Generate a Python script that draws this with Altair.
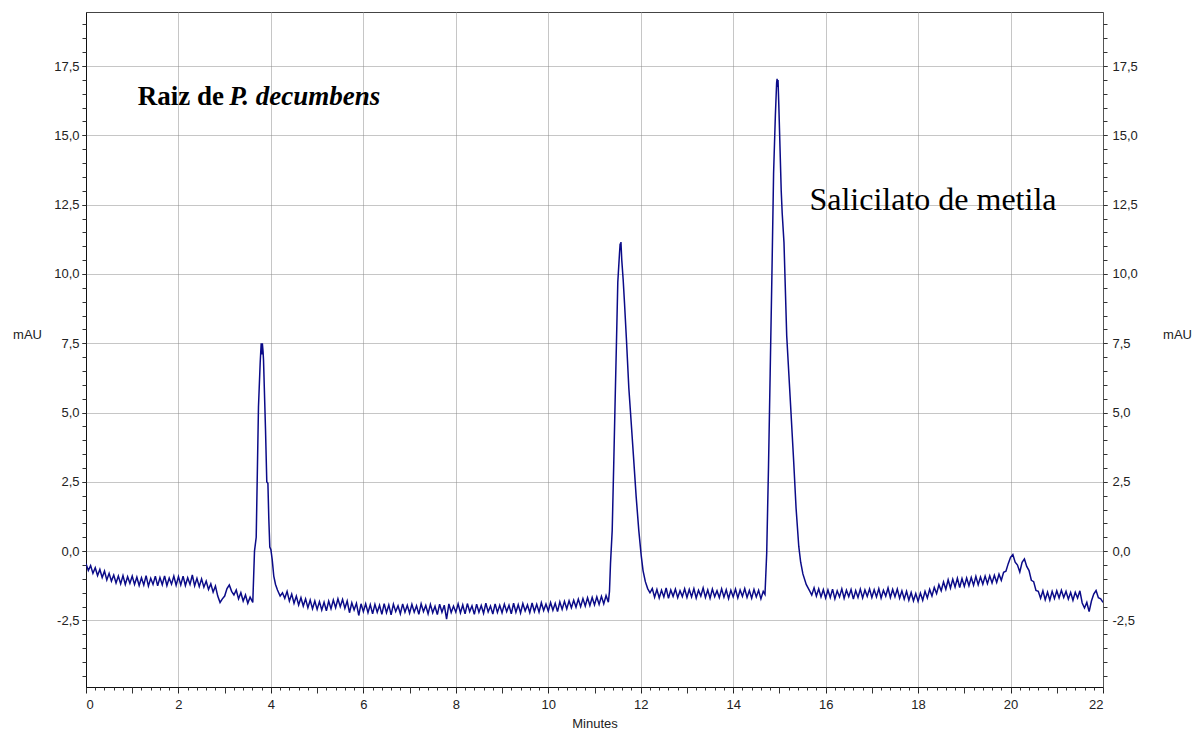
import altair as alt
import pandas as pd

# ---------------- data ----------------
STEP = 0.05  # sampling interval (min) of the baseline readings below
# (start minute, readings every STEP minutes) in mAU
baseline_segments = [
    (0.00, [-0.45, -0.70, -0.52, -0.80, -0.60, -0.88, -0.66, -0.95, -0.72, -1.04,
            -0.80, -1.08, -0.86, -1.15, -0.90, -1.18, -0.88, -1.20, -0.92, -1.16]),
    (1.00, [-0.90, -1.20, -0.94, -1.24, -0.96, -1.22, -0.88, -1.26, -0.98, -1.20,
            -0.90, -1.25, -0.95, -1.21, -0.89, -1.24, -0.97, -1.19, -0.90, -1.23]),
    (2.00, [-0.92, -1.22, -0.90, -1.24, -0.96, -1.20, -0.86, -1.25, -0.98, -1.28,
            -1.00, -1.30, -1.08, -1.38, -1.18, -1.48, -1.26, -1.62, -1.85, -1.72]),
    (3.00, [-1.62, -1.35, -1.22, -1.45, -1.58, -1.40, -1.72, -1.50, -1.80, -1.58,
            -1.88, -1.66]),
    (4.30, [-1.70, -1.45, -1.80, -1.55, -1.88, -1.62, -1.94, -1.68, -1.98, -1.72,
            -2.04, -1.76, -2.08, -1.80]),
    (5.00, [-2.10, -1.82, -2.12, -1.84, -2.15, -1.80, -2.08, -1.76, -2.04, -1.72,
            -2.00, -1.74, -2.06, -1.80, -2.22, -1.86, -2.12, -1.88, -2.32, -1.90]),
    (6.00, [-2.18, -1.90, -2.22, -1.93, -2.26, -1.92, -2.20, -1.95, -2.28, -1.89,
            -2.22, -1.94, -2.30, -1.91, -2.18, -1.97, -2.26, -1.90, -2.20, -1.95]),
    (7.00, [-2.24, -1.92, -2.20, -1.97, -2.28, -1.90, -2.18, -1.96, -2.26, -1.92,
            -2.22, -1.99, -2.29, -1.91, -2.20, -1.95, -2.45, -1.90, -2.21, -1.98]),
    (8.00, [-2.20, -1.90, -2.23, -1.94, -2.26, -1.89, -2.18, -1.97, -2.28, -1.91,
            -2.20, -1.96, -2.24, -1.88, -2.19, -1.98, -2.27, -1.90, -2.21, -1.95]),
    (9.00, [-2.22, -1.91, -2.18, -1.95, -2.26, -1.88, -2.20, -1.93, -2.23, -1.89,
            -2.16, -1.94, -2.22, -1.87, -2.18, -1.92, -2.20, -1.86, -2.14, -1.91]),
    (10.00, [-2.16, -1.85, -2.13, -1.88, -2.18, -1.83, -2.10, -1.81, -2.08, -1.79,
             -2.04, -1.77, -2.02, -1.73, -2.00, -1.71, -1.98, -1.68, -1.96, -1.67]),
    (11.00, [-1.94, -1.65, -1.92, -1.63, -1.90, -1.60, -1.84]),
    (12.25, [-1.35, -1.66, -1.38, -1.69, -1.41, -1.65, -1.33, -1.70, -1.40, -1.63,
             -1.37, -1.68, -1.43, -1.64, -1.36]),
    (13.00, [-1.67, -1.38, -1.65, -1.35, -1.69, -1.41, -1.62, -1.33, -1.67, -1.40,
             -1.70, -1.37, -1.64, -1.43, -1.68, -1.36, -1.66, -1.39, -1.71, -1.41]),
    (14.00, [-1.65, -1.37, -1.69, -1.40, -1.63, -1.35, -1.67, -1.42, -1.70, -1.38,
             -1.65, -1.41, -1.72, -1.45]),
    (15.70, [-1.58, -1.32, -1.62, -1.36, -1.65, -1.39]),
    (16.00, [-1.69, -1.40, -1.67, -1.37, -1.72, -1.43, -1.65, -1.36, -1.70, -1.41,
             -1.64, -1.38, -1.73, -1.42, -1.67, -1.37, -1.69, -1.40, -1.63, -1.36]),
    (17.00, [-1.67, -1.39, -1.65, -1.35, -1.69, -1.41, -1.62, -1.33, -1.67, -1.38,
             -1.64, -1.37, -1.70, -1.43, -1.73, -1.45, -1.77, -1.49, -1.79, -1.53]),
    (18.00, [-1.81, -1.51, -1.77, -1.45, -1.69, -1.38, -1.62, -1.31, -1.53, -1.21,
             -1.43, -1.11, -1.37, -1.03, -1.33, -1.01, -1.29, -0.98, -1.31, -0.99]),
    (19.00, [-1.27, -0.97, -1.25, -0.95, -1.23, -0.91, -1.21, -0.93, -1.19, -0.90,
             -1.17, -0.89, -1.15, -0.87, -1.13, -0.83, -1.05, -0.76, -0.72, -0.45]),
    (20.00, [-0.22, -0.12, -0.40, -0.50, -0.75, -0.40, -0.28, -0.55, -0.70, -1.05,
             -1.10, -1.42, -1.45, -1.70, -1.43, -1.75, -1.48, -1.77, -1.45, -1.71]),
    (21.00, [-1.43, -1.69, -1.41, -1.67, -1.45, -1.73, -1.49, -1.77, -1.48, -1.69,
             -1.43, -1.87, -2.05, -1.85, -2.18, -1.80, -1.55, -1.42, -1.68, -1.72]),
    (22.00, [-1.85]),
]

peak1_t = [3.608, 3.645, 3.682, 3.731, 3.768, 3.79, 3.805, 3.815, 3.83, 3.84, 3.883,
           3.911, 3.935, 3.954, 3.976, 4.0, 4.028, 4.062, 4.1, 4.142, 4.2, 4.25]
peak1_v = [-1.85, 0.0, 0.5, 5.2, 6.8, 7.5, 7.1, 7.5, 7.2, 6.9, 4.4,
           2.5, 2.45, 1.2, 0.15, 0.05, -0.3, -0.9, -1.2, -1.4, -1.62, -1.5]

peak2_t = [11.324, 11.346, 11.383, 11.417, 11.448, 11.476, 11.504, 11.541, 11.555,
           11.563, 11.572, 11.59, 11.62, 11.649, 11.692, 11.742, 11.779, 11.844,
           11.902, 11.958, 12.01, 12.05, 12.1, 12.15, 12.2]
peak2_v = [-1.45, -0.45, 0.75, 3.2, 5.55, 7.6, 9.7, 10.75, 11.1,
           10.95, 11.15, 10.5, 9.8, 8.95, 7.6, 5.9, 5.0, 3.4,
           1.95, 0.75, -0.15, -0.7, -1.1, -1.35, -1.5]

peak3_t = [14.688, 14.725, 14.764, 14.8, 14.837, 14.874, 14.913, 14.94, 14.95, 14.96,
           14.97, 14.987, 15.039, 15.06, 15.099, 15.158, 15.233, 15.307, 15.361,
           15.419, 15.46, 15.508, 15.58, 15.657]
peak3_v = [-1.56, -0.08, 3.04, 6.4, 9.88, 13.62, 15.74, 16.9, 17.04, 16.75,
           17.0, 16.1, 13.0, 12.2, 11.13, 7.77, 5.53, 3.29, 1.54,
           0.17, -0.4, -0.82, -1.2, -1.44]

# axis ticks
x_labels = [0, 2, 4, 6, 8, 10, 12, 14, 16, 18, 20, 22]
x_mid_ticks = [1, 3, 5, 7, 9, 11, 13, 15, 17, 19, 21]
y_labels = [-2.5, 0.0, 2.5, 5.0, 7.5, 10.0, 12.5, 15.0, 17.5]
X_DOMAIN = [0, 22]
Y_DOMAIN = [-4.9, 19.45]

# annotations
ann_text = ["Raiz de", "P. decumbens", "Salicilato de metila"]
ann_x = [1.12, 3.10, 15.65]
ann_y = [16.09, 16.09, 12.3]

# ---------------- build table ----------------
rows = []
for start, vals in baseline_segments:
    for k, v in enumerate(vals):
        rows.append((round(start + STEP * k, 3), v))
for ts, vs in ((peak1_t, peak1_v), (peak2_t, peak2_v), (peak3_t, peak3_v)):
    rows.extend(zip(ts, vs))
df = pd.DataFrame(rows, columns=["t", "mAU"]).sort_values("t").reset_index(drop=True)

x_minor = [round(i * 0.2, 1) for i in range(0, 111)]
y_minor = [round(-4.5 + i * 0.5, 1) for i in range(0, 48)]

FONT = "Liberation Sans"
LABEL_EXPR = "(datum.value < 0 ? '-' : '') + replace(format(abs(datum.value), '.1f'), '.', ',')"
GRID = "#8c8c8c"

xs = alt.Scale(domain=X_DOMAIN, nice=False, zero=False)
ys = alt.Scale(domain=Y_DOMAIN, nice=False, zero=False)

line = alt.Chart(df).mark_line(color="#0b0b88", strokeWidth=1.5, clip=True).encode(
    x=alt.X("t:Q", scale=xs, axis=alt.Axis(
        orient="bottom", values=x_labels, format="d", title="Minutes",
        grid=True, gridColor=GRID, gridDash=[1, 1], gridWidth=1,
        tickSize=6, tickColor="#222", domainColor="#111",
        labelPadding=5, titleY=36, titleBaseline="middle")),
    y=alt.Y("mAU:Q", scale=ys, axis=alt.Axis(
        orient="left", values=y_labels, labelExpr=LABEL_EXPR, title="mAU",
        grid=True, gridColor=GRID, gridDash=[1, 1], gridWidth=1,
        tickSize=4, tickColor="#222", domainColor="#111", labelPadding=3,
        titleAngle=0, titleX=-59, titleY=322, titleAlign="center",
        titleBaseline="middle")),
)

base_axis = alt.Chart(df).mark_point(opacity=0, size=1)

minor_layer = base_axis.encode(
    x=alt.X("t:Q", scale=xs, axis=alt.Axis(
        orient="bottom", values=x_minor, labels=False, title=None, grid=False,
        domain=False, tickSize=3, tickColor="#333")),
    y=alt.Y("mAU:Q", scale=ys, axis=alt.Axis(
        orient="left", values=y_minor, labels=False, title=None, grid=False,
        domain=False, tickSize=4, tickColor="#333")),
)

mid_layer = base_axis.encode(
    x=alt.X("t:Q", scale=xs, axis=alt.Axis(
        orient="bottom", values=x_mid_ticks, labels=False, title=None, grid=False,
        domain=False, tickSize=6, tickColor="#333")),
    y=alt.Y("mAU:Q", scale=ys, axis=alt.Axis(
        orient="right", values=y_labels, labelExpr=LABEL_EXPR, title="mAU",
        grid=False, tickSize=4, tickColor="#333", domainColor="#555",
        labelPadding=5, titleAngle=0, titleX=74, titleY=322,
        titleAlign="center", titleBaseline="middle")),
)

right_minor = base_axis.encode(
    x=alt.X("t:Q", scale=xs, axis=None),
    y=alt.Y("mAU:Q", scale=ys, axis=alt.Axis(
        orient="right", values=y_minor, labels=False, title=None, grid=False,
        domain=False, tickSize=4, tickColor="#333")),
)

ann_df = pd.DataFrame({"x": ann_x, "y": ann_y, "text": ann_text})

def ann(i, size, weight, style):
    return alt.Chart(ann_df.iloc[[i]]).mark_text(
        font="Liberation Serif", fontSize=size, fontWeight=weight, fontStyle=style,
        align="left", baseline="alphabetic", color="#000"
    ).encode(
        x=alt.X("x:Q", scale=xs, axis=None),
        y=alt.Y("y:Q", scale=ys, axis=None),
        text="text:N",
    )

texts = ann(0, 27, "bold", "normal") + ann(1, 27, "bold", "italic") + ann(2, 32, "normal", "normal")

chart = alt.layer(line, minor_layer, mid_layer, right_minor, texts).resolve_axis(
    x="independent", y="independent"
).properties(
    width=1017, height=675,
    autosize=alt.AutoSizeParams(type="none"),
    padding={"left": 86, "top": 12, "right": 90, "bottom": 46},
).configure_view(
    stroke="#444", strokeWidth=1
).configure_axis(
    labelFont=FONT, labelFontSize=13, labelColor="#222",
    titleFont=FONT, titleFontSize=13, titleFontWeight="normal", titleColor="#222",
)

chart.save("out.html", embed_options={"renderer": "svg", "actions": False})
